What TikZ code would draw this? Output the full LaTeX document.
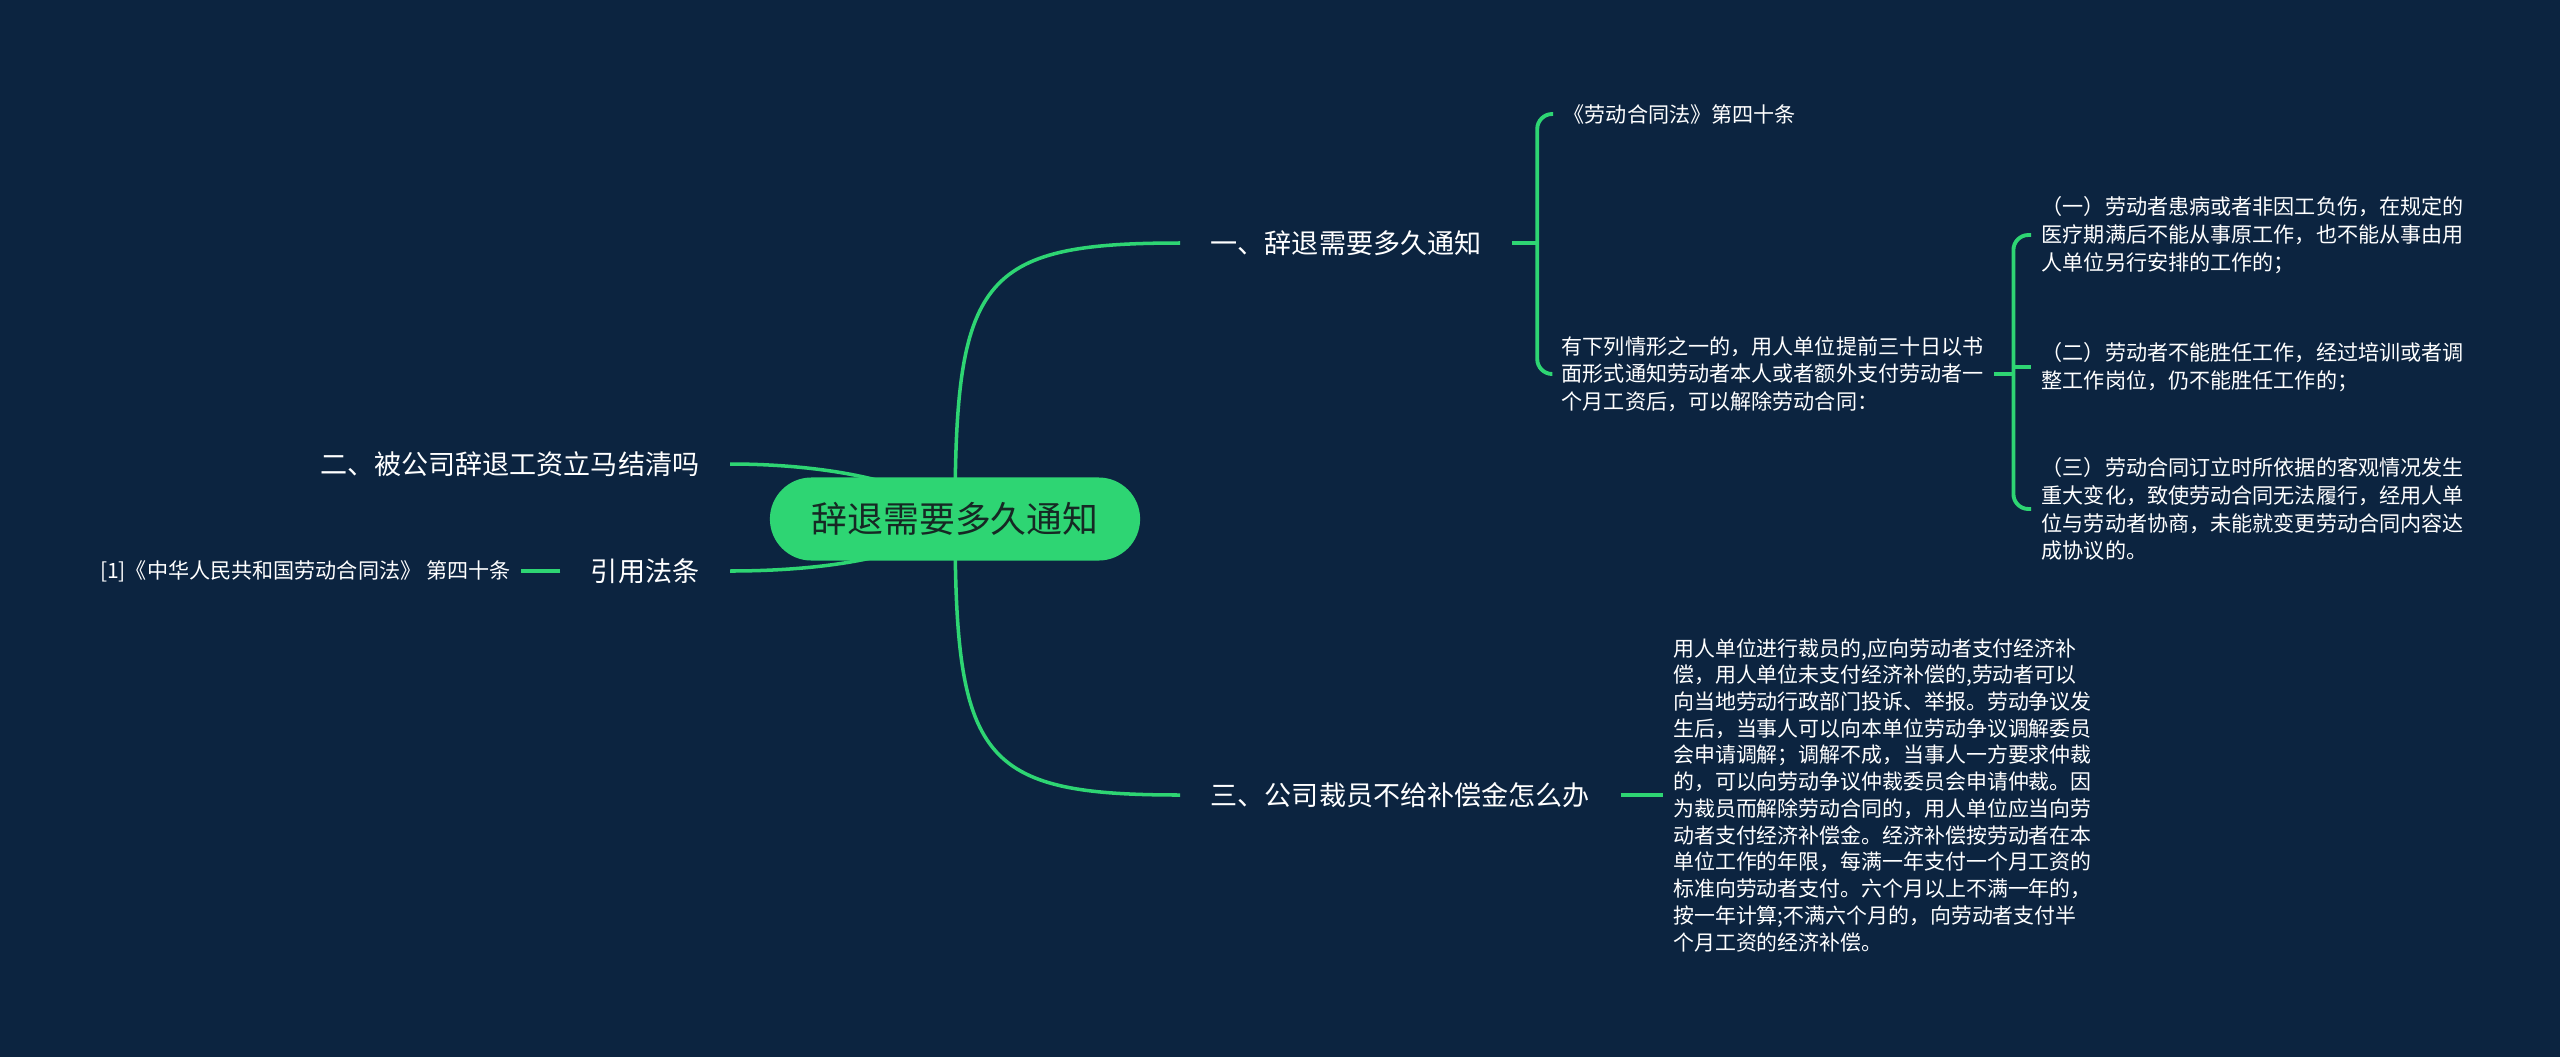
\documentclass[tikz,border=0pt]{standalone}
\usepackage{fontspec}
\setmainfont{Noto Sans CJK SC}
\usepackage{xcolor}
\usetikzlibrary{positioning}

\definecolor{bgnavy}{RGB}{12,36,64}
\definecolor{mapgreen}{RGB}{46,213,115}
\definecolor{rootink}{RGB}{22,40,36}

\pgfdeclarelayer{edges}
\pgfsetlayers{edges,main}

\tikzset{
  root/.style={fill=mapgreen, text=rootink, rounded corners=0.415cm,
    minimum width=3.7cm, minimum height=0.83cm,
    font=\fontsize{10.2pt}{12pt}\selectfont},
  topic/.style={text=white, inner xsep=0.3cm, inner ysep=0.1cm,
    font=\fontsize{7.7pt}{9pt}\selectfont},
  leaf/.style={text=white, align=left, inner xsep=0.1cm, inner ysep=0.05cm,
    font=\fontsize{6pt}{7.9pt}\selectfont},
  link/.style={draw=mapgreen, line width=1pt},
  stub/.style={draw=mapgreen, line width=1.1pt},
  brace/.style={draw=mapgreen, line width=1.1pt, rounded corners=0.15cm},
}

\begin{document}
\begin{tikzpicture}[x=0.01cm, y=-0.01cm]
  \useasboundingbox (0,0) rectangle (2560,1057);

  % Root and main topics
  \node[root] (root) at (955,519) {辞退需要多久通知};
  \node[topic, anchor=west] (notice) at (1180,243) {一、辞退需要多久通知};
  \node[topic, anchor=east] (wage) at (730,464) {二、被公司辞退工资立马结清吗};
  \node[topic, anchor=west] (layoff) at (1180,795) {三、公司裁员不给补偿金怎么办};
  \node[topic, anchor=east] (cite) at (730,571) {引用法条};

  % Sources
  \node[leaf, font=\fontsize{6pt}{7pt}\selectfont, left=0.39cm of cite] (law)
    {[1]《中华人民共和国劳动合同法》 第四十条};
  \node[leaf, anchor=west] (article) at (1553,114) {《劳动合同法》第四十条};

  % Notice period
  \node[leaf, anchor=west] (cond) at (1551,374)
    {有下列情形之一的，用人单位提前三十日以书\\
     面形式通知劳动者本人或者额外支付劳动者一\\
     个月工资后，可以解除劳动合同：};
  \node[leaf, anchor=west] (case1) at (2031,235)
    {（一）劳动者患病或者非因工负伤，在规定的\\
     医疗期满后不能从事原工作，也不能从事由用\\
     人单位另行安排的工作的；};
  \node[leaf, anchor=west] (case2) at (2031,367)
    {（二）劳动者不能胜任工作，经过培训或者调\\
     整工作岗位，仍不能胜任工作的；};
  \node[leaf, anchor=west] (case3) at (2031,509)
    {（三）劳动合同订立时所依据的客观情况发生\\
     重大变化，致使劳动合同无法履行，经用人单\\
     位与劳动者协商，未能就变更劳动合同内容达\\
     成协议的。};

  % Layoff compensation
  \node[leaf, font=\fontsize{5.95pt}{7.6pt}\selectfont, right=0.42cm of layoff] (comp)
    {用人单位进行裁员的,应向劳动者支付经济补\\
     偿，用人单位未支付经济补偿的,劳动者可以\\
     向当地劳动行政部门投诉、举报。劳动争议发\\
     生后，当事人可以向本单位劳动争议调解委员\\
     会申请调解；调解不成，当事人一方要求仲裁\\
     的，可以向劳动争议仲裁委员会申请仲裁。因\\
     为裁员而解除劳动合同的，用人单位应当向劳\\
     动者支付经济补偿金。经济补偿按劳动者在本\\
     单位工作的年限，每满一年支付一个月工资的\\
     标准向劳动者支付。六个月以上不满一年的，\\
     按一年计算;不满六个月的，向劳动者支付半\\
     个月工资的经济补偿。};

  \begin{pgfonlayer}{edges}
    \fill[bgnavy] (0,0) rectangle (2560,1057);

    % root to topics
    \draw[link] (root.center) .. controls (955,278) and (980,243) .. (notice.west);
    \draw[link] (root.center) .. controls (955,760) and (980,795) .. (layoff.west);
    \draw[link] (root.center) .. controls (920,480) and (820,464) .. (wage.east);
    \draw[link] (root.center) .. controls (920,558) and (820,571) .. (cite.east);

    % brackets
    \draw[stub] (notice.east) -- ++(25,0) coordinate (noticej);
    \foreach \k in {article, cond}
      \draw[brace] (noticej) |- (\k.west);
    \draw[stub] (cond.east) -- ++(19,0) coordinate (condj);
    \foreach \k in {case1, case3}
      \draw[brace] (condj) |- (\k.west);
    \draw[stub] (condj) |- (case2.west);

    % single children
    \draw[stub] (layoff.east) -- (comp.west);
    \draw[stub] (cite.west) -- (law.east);
  \end{pgfonlayer}
\end{tikzpicture}
\end{document}
